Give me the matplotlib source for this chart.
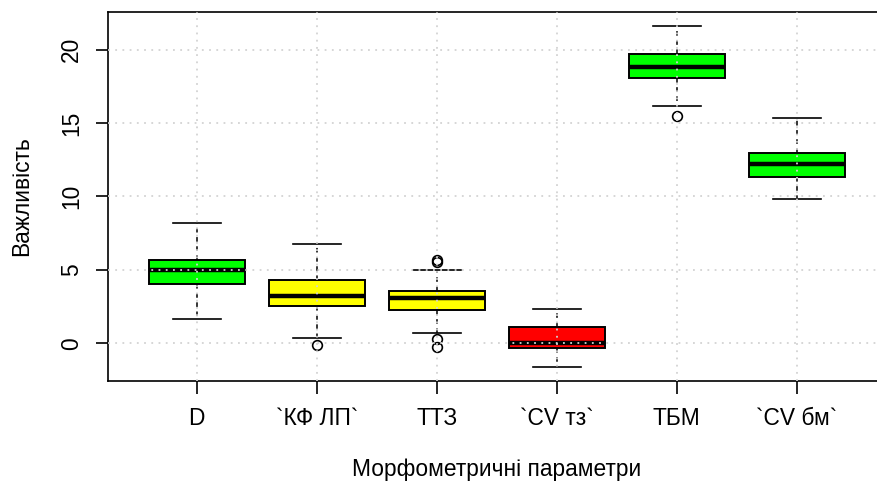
import matplotlib
matplotlib.use("Agg")
import matplotlib.pyplot as plt

categories = ["D", "`КФ ЛП`", "ТТЗ", "`CV тз`", "ТБМ", "`CV бм`"]
whislo = [1.63, 0.36, 0.70, -1.63, 16.14, 9.82]
q1 = [4.01, 2.56, 2.29, -0.29, 18.10, 11.31]
medians = [4.97, 3.24, 3.08, 0.05, 18.82, 12.18]
q3 = [5.71, 4.33, 3.58, 1.09, 19.73, 12.95]
whishi = [8.21, 6.78, 5.03, 2.31, 21.63, 15.33]
outliers = [[], [-0.11], [5.71, 5.53, 0.32, -0.27], [], [15.51], []]
colors = ["#00FF00", "#FFFF00", "#FFFF00", "#FF0000", "#00FF00", "#00FF00"]
yticks = [0, 5, 10, 15, 20]

plt.rcParams['font.family'] = ['Liberation Sans', 'DejaVu Sans']

fig = plt.figure(figsize=(8.77, 4.83), dpi=100)
W, H = 877, 483
ax = fig.add_axes([108 / W, 1 - 381 / H, 777.6 / W, (381 - 12) / H])

stats = []
for i in range(len(categories)):
    stats.append(dict(med=medians[i], q1=q1[i], q3=q3[i], whislo=whislo[i],
                      whishi=whishi[i], fliers=outliers[i], label=categories[i]))

positions = list(range(1, len(categories) + 1))
bp = ax.bxp(stats, positions=positions, widths=0.8, patch_artist=True,
            boxprops=dict(linewidth=1.4, edgecolor='black'),
            medianprops=dict(color='black', linewidth=3.2, solid_capstyle='butt'),
            whiskerprops=dict(color='black', linewidth=1.1, linestyle=(0, (3, 3))),
            capprops=dict(color='black', linewidth=1.2),
            capwidths=0.4,
            flierprops=dict(marker='o', markerfacecolor='none', markeredgecolor='black',
                            markersize=7, markeredgewidth=1.2))
for patch, c in zip(bp['boxes'], colors):
    patch.set_facecolor(c)

ax.set_xlim(0.26, 6.74)
ax.set_ylim(-2.56, 22.56)
ax.set_yticks(yticks)
ax.set_yticklabels([str(t) for t in yticks], rotation=90, va='center')
ax.set_xticks(positions)
ax.set_xticklabels(categories)

for x in positions:
    ax.axvline(x, color='#D3D3D3', linestyle=(0, (1, 3)), linewidth=1.3, zorder=5)
for y in yticks:
    ax.axhline(y, color='#D3D3D3', linestyle=(0, (1, 3)), linewidth=1.3, zorder=5)

ax.spines['right'].set_visible(False)
for s in ['left', 'bottom', 'top']:
    ax.spines[s].set_linewidth(1.2)
    ax.spines[s].set_color('black')

ax.tick_params(axis='both', length=9, width=1.2, labelsize=16.4, color='black')
ax.tick_params(axis='x', pad=10)
ax.tick_params(axis='y', pad=9)

ax.set_xlabel("Морфометричні параметри", fontsize=16.4, labelpad=20)
ax.set_ylabel("Важливість", fontsize=16.4, labelpad=19)

fig.savefig("out.png", dpi=100)
